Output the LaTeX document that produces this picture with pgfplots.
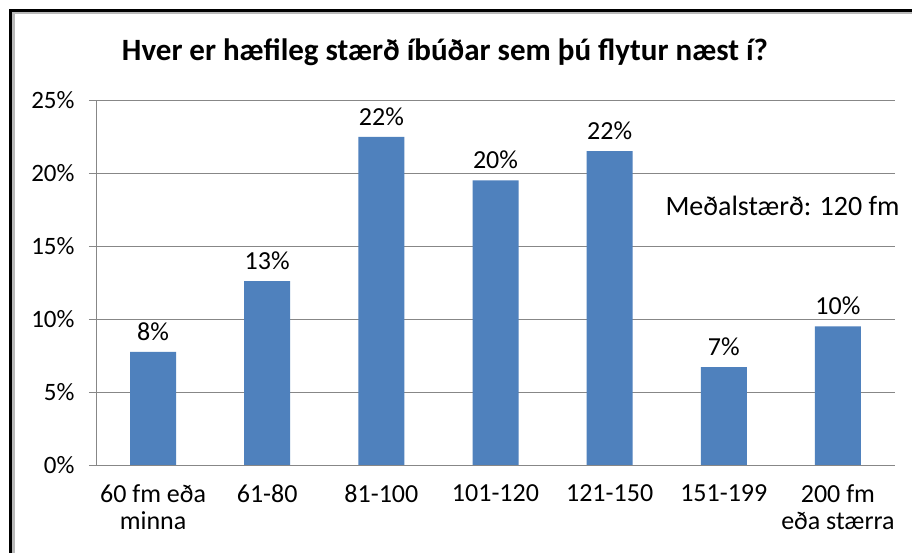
\documentclass[border=0pt]{standalone}
\usepackage{pgfplots}
\usepackage{pgfplotstable}
\pgfplotsset{compat=1.18}
\usepackage{fontspec}
\setmainfont{Carlito}
\definecolor{barblue}{HTML}{4F81BD}
\definecolor{gridgray}{HTML}{878787}
\pgfplotstableread{
x y lab
0 7.74 8\%
1 12.6 13\%
2 22.47 22\%
3 19.5 20\%
4 21.5 22\%
5 6.7 7\%
6 9.5 10\%
}\datatable
\begin{document}
\begin{tikzpicture}[x=1pt,y=1pt]
\useasboundingbox (0,0) rectangle (912,553);
\fill[white] (0,0) rectangle (912,553);
\draw[gray!55, line width=2.5pt] (13.5,-5) -- (13.5,540) -- (920,540);
\draw[black, line width=3pt] (10.5,-5) -- (10.5,542) -- (920,542);
\node[font=\fontsize{31}{36}\selectfont\bfseries] at (445,501) {Hver er hæfileg stærð íbúðar sem þú flytur næst í?};
\begin{axis}[
  at={(96pt,88pt)}, anchor=south west,
  scale only axis, width=799pt, height=365pt,
  xmin=-0.5, xmax=6.5, ymin=0, ymax=25,
  axis lines*=left,
  axis line style={gridgray, line width=0.8pt},
  ytick={0,5,...,25},
  yticklabel={\pgfmathprintnumber{\tick}\%},
  ymajorgrids, grid style={gridgray, line width=0.8pt},
  tick align=outside, major tick length=7pt,
  tick style={gridgray, line width=0.8pt},
  xtick={0,...,6},
  xticklabels={60 fm eða\\minna, 61-80, 81-100, 101-120, 121-150, 151-199, 200 fm\\eða stærra},
  x tick label style={align=center, font=\fontsize{26}{27}\selectfont, yshift=-9pt},
  y tick label style={font=\fontsize{25}{28}\selectfont, xshift=-11pt},
  major x tick style={draw=none},
  extra x ticks={-0.5,0.5,...,6.5},
  extra x tick labels={},
  extra x tick style={major tick length=8pt, tick style={gridgray}},
  /pgf/number format/assume math mode=true,
  ybar, bar width=46pt,
  nodes near coords, point meta=explicit symbolic,
  every node near coord/.append style={font=\fontsize{26}{28}\selectfont, yshift=8pt},
]
\addplot[fill=barblue, draw=none] table[x=x, y=y, meta=lab] {\datatable};
\end{axis}
\node[anchor=west, font=\fontsize{28}{32}\selectfont] at (662,347) {Meðalstærð: 120 fm};
\end{tikzpicture}
\end{document}
